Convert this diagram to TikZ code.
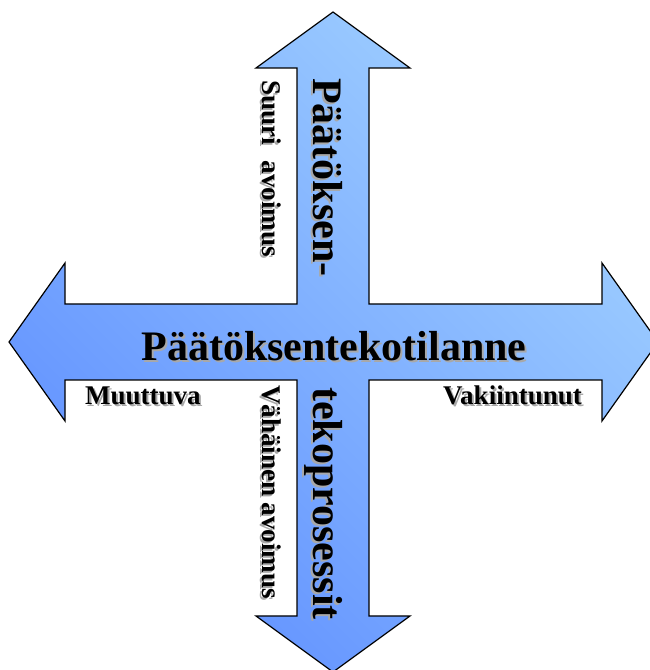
\documentclass[tikz,border=0pt]{standalone}
\usepackage{fontspec}
\setmainfont{Liberation Serif}
\begin{document}
\begin{tikzpicture}[x=1pt,y=1pt,
  crossstyle/.style={draw=black, line width=1.2pt, line join=miter,
    top color=arrowlight, bottom color=arrowdark, middle color=arrowmid, shading angle=-45},
  bigtxt/.style={inner sep=0pt, font=\fontsize{42}{48}\selectfont\bfseries},
  smalltxt/.style={inner sep=0pt, font=\fontsize{27}{32}\selectfont\bfseries},
  shadowtxt/.style={text=shadowgray},
  vert/.style={rotate=-90, anchor=base west}]
\definecolor{arrowlight}{HTML}{A0D0FF}
\definecolor{arrowmid}{HTML}{80B0FF}
\definecolor{arrowdark}{HTML}{6090FF}
\definecolor{shadowgray}{HTML}{A8A8A8}
\useasboundingbox (0,0) rectangle (650,670);
\begin{scope}
\clip (0,0) rectangle (650,670);
% cross-shaped four-way arrow (pixel coords converted: Y = 670 - y)
\path[crossstyle]
  (333,658) -- (410,602) -- (369,602) -- (369,366) -- (602,366) -- (602,407)
  -- (658,328) -- (602,249) -- (602,290) -- (369,290) -- (369,54) -- (410,54)
  -- (333,-2) -- (256,54) -- (297,54) -- (297,290) -- (65,290) -- (65,249)
  -- (9,328) -- (65,407) -- (65,366) -- (297,366) -- (297,602) -- (256,602) -- cycle;
\end{scope}
% main horizontal title
\node[bigtxt, shadowtxt, anchor=base] (mainsh) at (336,307) {Päätöksentekotilanne};
\node[bigtxt, anchor=base] (main) at (334,309) {Päätöksentekotilanne};
% vertical title parts
\node[bigtxt, shadowtxt, vert] (topsh) at (311,590) {Päätöksen-};
\node[bigtxt, vert] (top) at (313,592) {Päätöksen-};
\node[bigtxt, shadowtxt, vert] (botsh) at (311,281) {tekoprosessit};
\node[bigtxt, vert] (bot) at (313,283) {tekoprosessit};
% small labels
\node[smalltxt, shadowtxt, vert] (suurish) at (260,588) {Suuri\hspace{16pt}avoimus};
\node[smalltxt, vert] (suuri) at (262,590) {Suuri\hspace{16pt}avoimus};
\node[smalltxt, shadowtxt, vert] (vahsh) at (260,283) {Vähäinen avoimus};
\node[smalltxt, vert] (vah) at (262,285) {Vähäinen avoimus};
\node[smalltxt, shadowtxt, anchor=base west] (muush) at (87,263) {Muuttuva};
\node[smalltxt, anchor=base west] (muu) at (85,265) {Muuttuva};
\node[smalltxt, shadowtxt, anchor=base west] (vaksh) at (445,263) {Vakiintunut};
\node[smalltxt, anchor=base west] (vak) at (443,265) {Vakiintunut};
\end{tikzpicture}
\end{document}
